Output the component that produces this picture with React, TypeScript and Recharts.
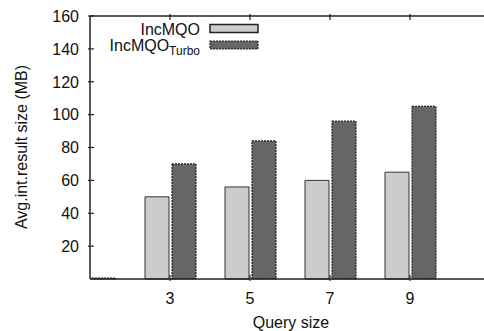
import React from 'react';
import { BarChart, Bar, XAxis, YAxis } from 'recharts';

// query sizes and average intermediate result size (MB)
const querySizes = [1, 3, 5, 7, 9];
const incMQO = [0.5, 50, 56, 60, 65];
const incMQOTurbo = [0.5, 70, 84, 96, 105];
const xTicks = [3, 5, 7, 9];
const yTicks = [20, 40, 60, 80, 100, 120, 140, 160];

const data = querySizes.map((q, i) => ({ q, incMQO: incMQO[i], turbo: incMQOTurbo[i] }));

const FONT = '"Liberation Sans", Arial, Helvetica, sans-serif';

const YTick = (props: any) => {
  const { x, y, payload } = props;
  return (
    <g>
      <line x1={x} y1={y} x2={x + 6} y2={y} stroke="#222" strokeWidth={1.2} />
      <text x={x - 9} y={y} dy="0.36em" textAnchor="end" fontSize={16} fontFamily={FONT} fill="#111">
        {payload.value}
      </text>
    </g>
  );
};

const XTick = (props: any) => {
  const { x, y, payload } = props;
  return (
    <g>
      <line x1={x} y1={y} x2={x} y2={y - 6} stroke="#222" strokeWidth={1.2} />
      <text x={x} y={y + 23} textAnchor="middle" fontSize={16} fontFamily={FONT} fill="#111">
        {payload.value}
      </text>
    </g>
  );
};

const TopTick = (props: any) => {
  const { x, y } = props;
  return <line x1={x} y1={y} x2={x} y2={y + 6} stroke="#222" strokeWidth={1.2} />;
};

// legend drawn in svg (top left of the plot)
const LegendBox = () => (
  <g>
    <text x={200} y={35} textAnchor="end" fontSize={16} fontFamily={FONT} fill="#111">IncMQO</text>
    <rect x={210} y={24.5} width={48} height={8} fill="#cccccc" stroke="#222" strokeWidth={1.5} />
    <text x={200} y={51} textAnchor="end" fontSize={16} fontFamily={FONT} fill="#111">
      IncMQO
      <tspan fontSize={12} dy={4}>Turbo</tspan>
    </text>
    <rect x={210} y={41} width={48} height={8} fill="#666666" stroke="#222" strokeWidth={1.2} strokeDasharray="2 1" />
  </g>
);

export default function App() {
  return (
    <div style={{ position: 'absolute', left: 0, top: 0, background: '#fff' }}>
      <BarChart
        width={484}
        height={331}
        data={data}
        margin={{ top: 15, right: 0, bottom: 0, left: 30 }}
        barSize={24}
        barGap={3}
      >
        <XAxis
          dataKey="q"
          type="number"
          domain={[1, 10.85]}
          allowDataOverflow
          ticks={xTicks}
          interval={0}
          height={52}
          tickSize={0}
          tickLine={false}
          tick={<XTick />}
          axisLine={{ stroke: '#222', strokeWidth: 1.5 }}
          label={{
            content: () => (
              <text x={291} y={328} textAnchor="middle" fontSize={16} fontFamily={FONT} fill="#111">
                Query size
              </text>
            ),
          }}
        />
        <XAxis
          xAxisId="top"
          orientation="top"
          dataKey="q"
          type="number"
          domain={[1, 10.85]}
          allowDataOverflow
          ticks={xTicks}
          interval={0}
          height={1}
          tickSize={0}
          tickLine={false}
          tick={<TopTick />}
          axisLine={{ stroke: '#222', strokeWidth: 1.5 }}
          label={{ content: () => <LegendBox /> }}
        />
        <YAxis
          domain={[0, 160]}
          ticks={yTicks}
          interval={0}
          width={60}
          tickSize={0}
          tickLine={false}
          tick={<YTick />}
          axisLine={{ stroke: '#222', strokeWidth: 1.5 }}
          label={{
            content: () => (
              <text
                x={27}
                y={147}
                textAnchor="middle"
                fontSize={16}
                fontFamily={FONT}
                fill="#111"
                transform="rotate(-90 27 147)"
              >
                Avg.int.result size (MB)
              </text>
            ),
          }}
        />
        <Bar dataKey="incMQO" fill="#cccccc" stroke="#333" strokeWidth={1} isAnimationActive={false} />
        <Bar
          dataKey="turbo"
          fill="#666666"
          stroke="#222"
          strokeWidth={1.2}
          strokeDasharray="2 1"
          isAnimationActive={false}
        />
      </BarChart>
    </div>
  );
}
